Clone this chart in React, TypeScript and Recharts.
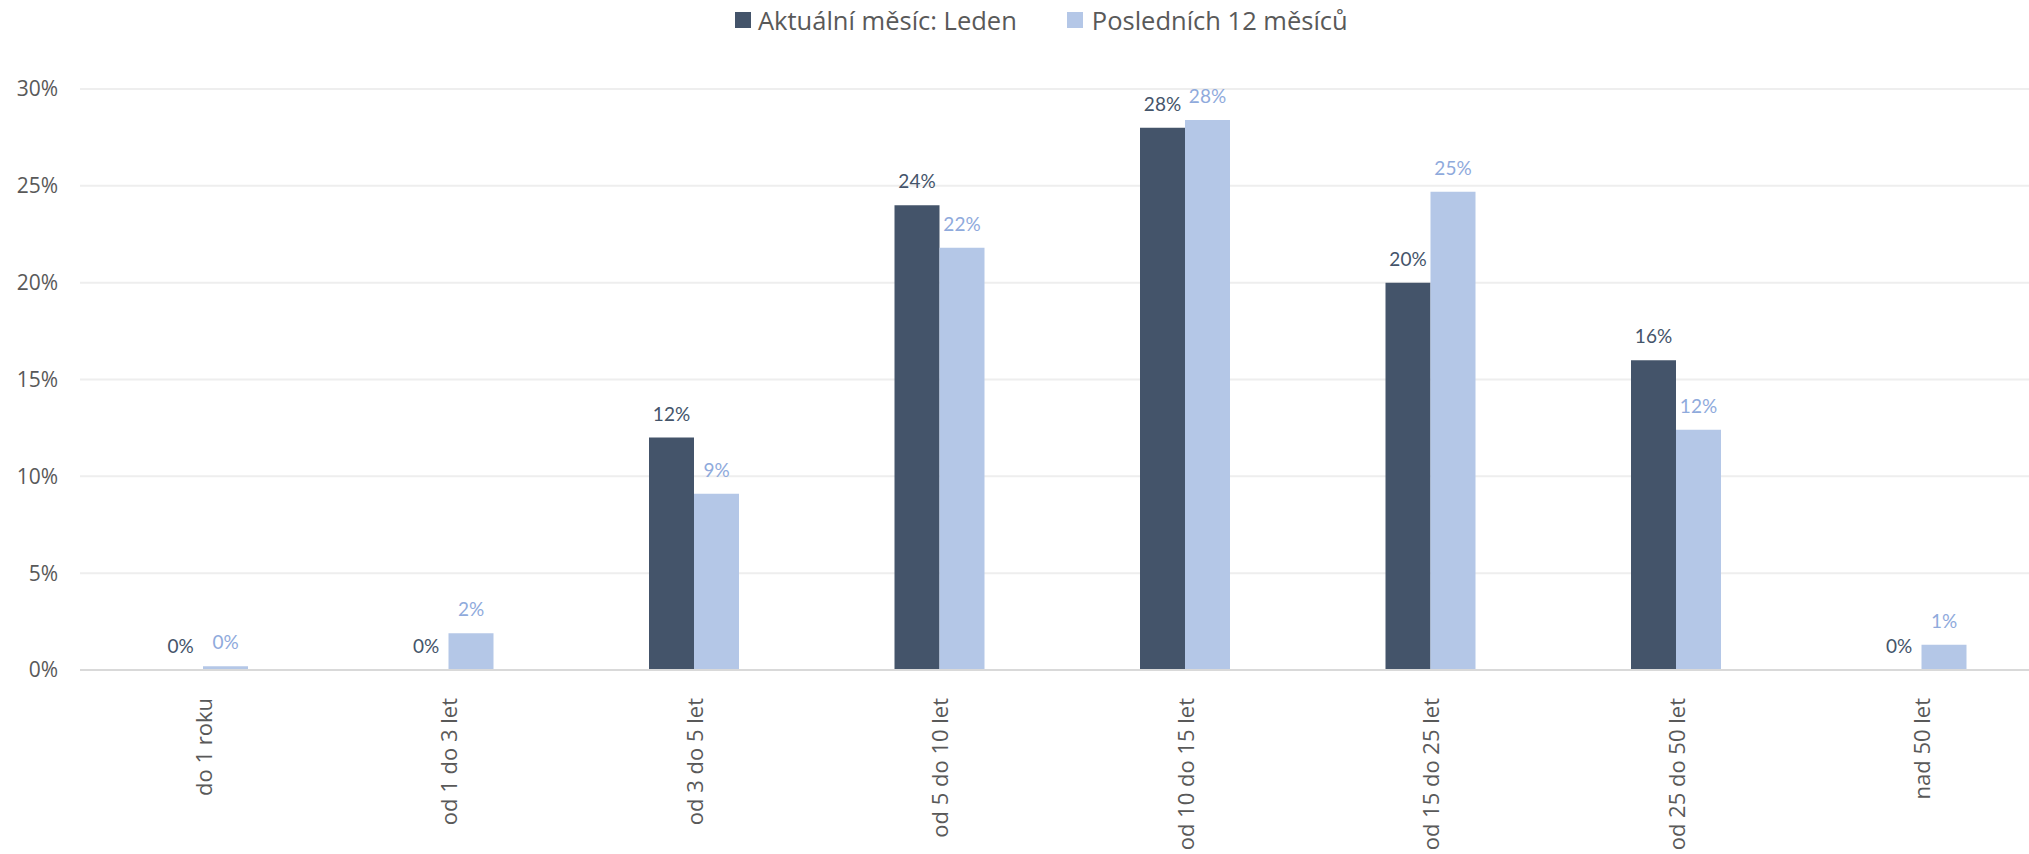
import { Bar, BarChart, CartesianGrid, LabelList, XAxis, YAxis } from "recharts"

const categories = [
  "do 1 roku",
  "od 1 do 3 let",
  "od 3 do 5 let",
  "od 5 do 10 let",
  "od 10 do 15 let",
  "od 15 do 25 let",
  "od 25 do 50 let",
  "nad 50 let",
]
const currentMonth = [0, 0, 12, 24, 28, 20, 16, 0]
const last12Months = [0.2, 1.9, 9.1, 21.8, 28.4, 24.7, 12.4, 1.3]
const yTicks = [0, 5, 10, 15, 20, 25, 30]

const seriesNames = ["Aktuální měsíc: Leden", "Posledních 12 měsíců"]
const darkColor = "#44546A"
const lightColor = "#B4C7E7"
const lightLabel = "#8FAADC"

const data = categories.map((name, i) => ({
  name,
  current: currentMonth[i],
  last12: last12Months[i],
}))

const pct = (v: any) => `${Math.round(Number(v))}%`

function RotatedTick(props: any) {
  const { x, y, payload } = props
  return (
    <text
      x={x}
      y={y + 20}
      transform={`rotate(-90, ${x}, ${y + 20})`}
      textAnchor="end"
      dominantBaseline="central"
      fill="#595959"
      fontSize={22}
      fontFamily="Open Sans"
    >
      {payload.value}
    </text>
  )
}

export default function App() {
  return (
    <div
      style={{
        position: "absolute",
        left: 0,
        top: 0,
        width: 2029,
        height: 854,
        overflow: "hidden",
        background: "#fff",
      }}
    >
      <div
        style={{
          position: "absolute",
          left: 735,
          top: 3,
          display: "flex",
          alignItems: "center",
          fontFamily: "Open Sans",
          fontSize: 25.5,
          color: "#595959",
          zIndex: 2,
        }}
      >
        <span style={{ width: 16, height: 16, background: darkColor, display: "inline-block" }} />
        <span style={{ marginLeft: 7 }}>{seriesNames[0]}</span>
        <span style={{ width: 16, height: 16, background: lightColor, display: "inline-block", marginLeft: 50 }} />
        <span style={{ marginLeft: 9 }}>{seriesNames[1]}</span>
      </div>
      <BarChart
        width={2060}
        height={854}
        data={data}
        margin={{ top: 89, right: 16, bottom: 0, left: 0 }}
        barGap={0}
      >
        <CartesianGrid vertical={false} stroke="#eeeeee" strokeWidth={2} />
        <XAxis
          dataKey="name"
          height={184}
          tickLine={false}
          axisLine={{ stroke: "#d9d9d9", strokeWidth: 2 }}
          tick={<RotatedTick />}
          interval={0}
        />
        <YAxis
          width={80}
          domain={[0, 30]}
          ticks={yTicks}
          tickFormatter={(v) => `${v}%`}
          axisLine={false}
          tickLine={false}
          tickSize={0}
          tickMargin={22}
          tick={{ fill: "#595959", fontSize: 21, fontFamily: "Open Sans" }}
        />
        <Bar
          dataKey="current"
          name={seriesNames[0]}
          fill={darkColor}
          barSize={45}
          minPointSize={0.001}
          isAnimationActive={false}
        >
          <LabelList
            dataKey="current"
            position="top"
            offset={17}
            formatter={pct}
            fill={darkColor}
            fontSize={19}
            fontFamily="Lato"
          />
        </Bar>
        <Bar
          dataKey="last12"
          name={seriesNames[1]}
          fill={lightColor}
          barSize={45}
          minPointSize={0.001}
          isAnimationActive={false}
        >
          <LabelList
            dataKey="last12"
            position="top"
            offset={17}
            formatter={pct}
            fill={lightLabel}
            fontSize={19}
            fontFamily="Lato"
          />
        </Bar>
      </BarChart>
    </div>
  )
}
